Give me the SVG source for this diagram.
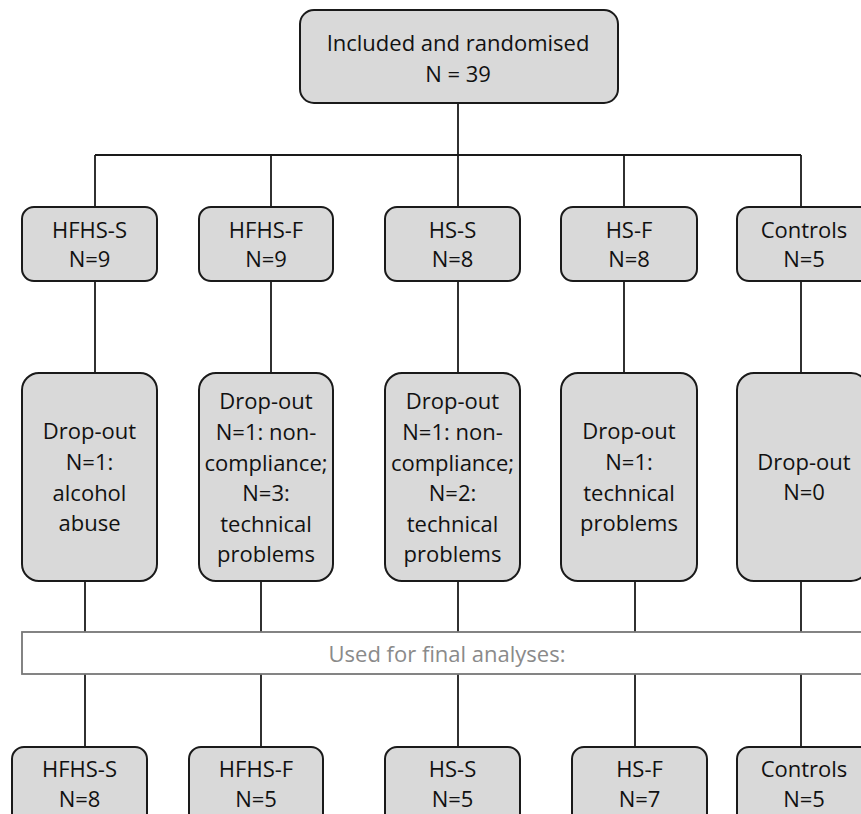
<svg xmlns="http://www.w3.org/2000/svg" width="861" height="814" viewBox="0 0 861 814">
<style>
.box{fill:#d9d9d9;stroke:#1a1a1a;stroke-width:2}
.t{font-family:"Open Sans","Liberation Sans",sans-serif;font-size:22px;fill:#111;text-anchor:middle}
.g{font-family:"Open Sans","Liberation Sans",sans-serif;font-size:22px;fill:#8a8a8a;text-anchor:middle}
.c{stroke:#1a1a1a;stroke-width:1.8;fill:none}
</style>
<rect width="861" height="814" fill="#fff"/>
<g id="connectors">
<line class="c" x1="458" y1="103" x2="458" y2="155"/>
<line class="c" x1="95" y1="155" x2="801" y2="155"/>
<line class="c" x1="95" y1="155" x2="95" y2="207"/>
<line class="c" x1="271" y1="155" x2="271" y2="207"/>
<line class="c" x1="458" y1="155" x2="458" y2="207"/>
<line class="c" x1="624" y1="155" x2="624" y2="207"/>
<line class="c" x1="801" y1="155" x2="801" y2="207"/>
<line class="c" x1="95" y1="281" x2="95" y2="373"/>
<line class="c" x1="271" y1="281" x2="271" y2="373"/>
<line class="c" x1="458" y1="281" x2="458" y2="373"/>
<line class="c" x1="624" y1="281" x2="624" y2="373"/>
<line class="c" x1="801" y1="281" x2="801" y2="373"/>
<line class="c" x1="85" y1="581" x2="85" y2="632"/>
<line class="c" x1="261" y1="581" x2="261" y2="632"/>
<line class="c" x1="458" y1="581" x2="458" y2="632"/>
<line class="c" x1="635" y1="581" x2="635" y2="632"/>
<line class="c" x1="801" y1="581" x2="801" y2="632"/>
<line class="c" x1="85" y1="674" x2="85" y2="747"/>
<line class="c" x1="261" y1="674" x2="261" y2="747"/>
<line class="c" x1="458" y1="674" x2="458" y2="747"/>
<line class="c" x1="635" y1="674" x2="635" y2="747"/>
<line class="c" x1="801" y1="674" x2="801" y2="747"/>
</g>
<g id="top">
<rect class="box" x="300" y="10" width="318" height="93" rx="14"/>
<text class="t" x="458" y="51">Included and randomised</text>
<text class="t" x="458" y="82">N = 39</text>
</g>
<g id="g1">
<rect class="box" x="22" y="207" width="135" height="74" rx="12"/>
<text class="t" x="89.5" y="238">HFHS-S</text>
<text class="t" x="89.5" y="267">N=9</text>
</g>
<g id="g2">
<rect class="box" x="199" y="207" width="134" height="74" rx="12"/>
<text class="t" x="266" y="238">HFHS-F</text>
<text class="t" x="266" y="267">N=9</text>
</g>
<g id="g3">
<rect class="box" x="385" y="207" width="135" height="74" rx="12"/>
<text class="t" x="452.5" y="238">HS-S</text>
<text class="t" x="452.5" y="267">N=8</text>
</g>
<g id="g4">
<rect class="box" x="561" y="207" width="136" height="74" rx="12"/>
<text class="t" x="629" y="238">HS-F</text>
<text class="t" x="629" y="267">N=8</text>
</g>
<g id="g5">
<rect class="box" x="737" y="207" width="135" height="74" rx="12"/>
<text class="t" x="804" y="238">Controls</text>
<text class="t" x="804" y="267">N=5</text>
</g>
<g id="d1">
<rect class="box" x="22" y="373" width="135" height="208" rx="17"/>
<text class="t" x="89.5" y="439">Drop-out</text>
<text class="t" x="89.5" y="470">N=1:</text>
<text class="t" x="89.5" y="501">alcohol</text>
<text class="t" x="89.5" y="531">abuse</text>
</g>
<g id="d2">
<rect class="box" x="199" y="373" width="134" height="208" rx="17"/>
<text class="t" x="266" y="409">Drop-out</text>
<text class="t" x="266" y="440">N=1: non-</text>
<text class="t" x="266" y="471">compliance;</text>
<text class="t" x="266" y="501">N=3:</text>
<text class="t" x="266" y="532">technical</text>
<text class="t" x="266" y="562">problems</text>
</g>
<g id="d3">
<rect class="box" x="385" y="373" width="135" height="208" rx="17"/>
<text class="t" x="452.5" y="409">Drop-out</text>
<text class="t" x="452.5" y="440">N=1: non-</text>
<text class="t" x="452.5" y="471">compliance;</text>
<text class="t" x="452.5" y="501">N=2:</text>
<text class="t" x="452.5" y="532">technical</text>
<text class="t" x="452.5" y="562">problems</text>
</g>
<g id="d4">
<rect class="box" x="561" y="373" width="136" height="208" rx="17"/>
<text class="t" x="629" y="439">Drop-out</text>
<text class="t" x="629" y="470">N=1:</text>
<text class="t" x="629" y="501">technical</text>
<text class="t" x="629" y="531">problems</text>
</g>
<g id="d5">
<rect class="box" x="737" y="373" width="131" height="208" rx="17"/>
<text class="t" x="804" y="470">Drop-out</text>
<text class="t" x="804" y="500">N=0</text>
</g>
<g id="used">
<rect x="22" y="632" width="850" height="42" fill="#fff" stroke="#777" stroke-width="1.8"/>
<text class="g" x="447" y="662">Used for final analyses:</text>
</g>
<g id="f1">
<rect class="box" x="12" y="747" width="135" height="80" rx="12"/>
<text class="t" x="79.5" y="777">HFHS-S</text>
<text class="t" x="79.5" y="807">N=8</text>
</g>
<g id="f2">
<rect class="box" x="189" y="747" width="134" height="80" rx="12"/>
<text class="t" x="256" y="777">HFHS-F</text>
<text class="t" x="256" y="807">N=5</text>
</g>
<g id="f3">
<rect class="box" x="385" y="747" width="135" height="80" rx="12"/>
<text class="t" x="452.5" y="777">HS-S</text>
<text class="t" x="452.5" y="807">N=5</text>
</g>
<g id="f4">
<rect class="box" x="572" y="747" width="135" height="80" rx="12"/>
<text class="t" x="639.5" y="777">HS-F</text>
<text class="t" x="639.5" y="807">N=7</text>
</g>
<g id="f5">
<rect class="box" x="737" y="747" width="135" height="80" rx="12"/>
<text class="t" x="804" y="777">Controls</text>
<text class="t" x="804" y="807">N=5</text>
</g>
</svg>
